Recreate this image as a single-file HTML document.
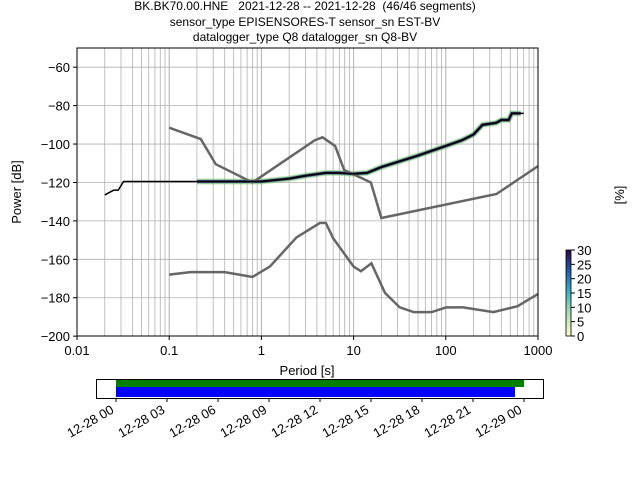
<!DOCTYPE html>
<html><head><meta charset="utf-8"><style>
body{margin:0;background:#fff}
svg{font-family:"Liberation Sans","DejaVu Sans",sans-serif}
</style></head><body>
<svg id="s" width="640" height="480" xmlns="http://www.w3.org/2000/svg">
<g font-size="12" text-anchor="middle" fill="#000">
<text x="305" y="10" style="white-space:pre">BK.BK70.00.HNE   2021-12-28 -- 2021-12-28  (46/46 segments)</text>
<text x="305" y="26">sensor_type EPISENSORES-T sensor_sn EST-BV</text>
<text x="305" y="41">datalogger_type Q8 datalogger_sn Q8-BV</text>
</g>
<g id="grid"></g>
<g id="curves"></g>
<rect x="77" y="48" width="461" height="288" fill="none" stroke="#000" stroke-width="1"/>
<g id="ticks" font-size="13"></g>
<text x="307" y="375" font-size="13" text-anchor="middle">Period [s]</text>
<text transform="translate(21,192) rotate(-90)" font-size="13" text-anchor="middle">Power [dB]</text>
<text transform="translate(624,195) rotate(-90)" font-size="13" text-anchor="middle">[%]</text>
<defs><linearGradient id="cb" x1="0" y1="1" x2="0" y2="0">
<stop offset="0" stop-color="#ffffcc"/><stop offset="0.3" stop-color="#a1dab4"/><stop offset="0.5" stop-color="#41b6c4"/><stop offset="0.75" stop-color="#225ea8"/><stop offset="1" stop-color="#2c0a4a"/></linearGradient></defs>
<rect x="566" y="250" width="5" height="86" fill="url(#cb)" stroke="#000" stroke-width="0.8"/>
<g id="cbt" font-size="13"></g>
<rect x="96.5" y="379.5" width="447" height="19" fill="#fff" stroke="#000"/>
<rect x="116" y="380" width="408" height="7" fill="#008000"/>
<rect x="116" y="387" width="399" height="10" fill="#0000ff"/>
<g id="bt" font-size="13"></g>
</svg>
<script>
const NS="http://www.w3.org/2000/svg";
function el(p,t,a,txt){const e=document.createElementNS(NS,t);for(const k in a)e.setAttribute(k,a[k]);if(txt!==undefined)e.textContent=txt;document.getElementById(p).appendChild(e);return e;}
const X=p=>77+(Math.log10(p)+2)*92.2, Y=d=>48+(-50-d)*1.921;
for(let e=-2;e<3;e++)for(let m=1;m<10;m++){const x=X(m*Math.pow(10,e));el("grid","line",{x1:x,x2:x,y1:48,y2:336,stroke:"#b0b0b0","stroke-width":m==1?1:0.8});}
for(let d=-60;d>=-200;d-=20){el("grid","line",{x1:77,x2:538,y1:Y(d),y2:Y(d),stroke:"#b0b0b0","stroke-width":0.8});
el("ticks","line",{x1:73,x2:77,y1:Y(d),y2:Y(d),stroke:"#000"});el("ticks","text",{x:70,y:Y(d)+5,"text-anchor":"end"},"−"+(-d));}
const xl=["0.01","0.1","1","10","100","1000"];
xl.forEach((t,i)=>{const x=77+i*92.2;el("ticks","line",{x1:x,x2:x,y1:336,y2:340,stroke:"#000"});el("ticks","text",{x:x,y:355,"text-anchor":"middle"},t);});
function pl(pts,st){el("curves","polyline",Object.assign({points:pts.map(p=>X(p[0])+","+Y(p[1])).join(" "),fill:"none"},st));}
const hn=[[0.1,-91.5],[0.22,-97.4],[0.32,-110.5],[0.8,-120],[3.8,-98],[4.6,-96.5],[6.3,-101],[7.9,-113.5],[15.4,-120],[20,-138.5],[354.8,-126],[1000,-111.5]];
const ln=[[0.1,-168],[0.17,-166.7],[0.4,-166.7],[0.8,-169.2],[1.24,-163.7],[2.4,-148.6],[4.3,-141.1],[5,-141.1],[6,-149],[10,-163.8],[12,-166.2],[15.6,-162.1],[21.9,-177.5],[31.6,-185],[45,-187.5],[70,-187.5],[101,-185],[154,-185],[328,-187.5],[600,-184.4],[1000,-178]];
const dt=[[0.02,-126.5],[0.025,-124],[0.028,-124],[0.032,-119.5],[1,-119.5],[2,-118],[3,-116.5],[5,-115],[7,-115],[10,-115.5],[14,-115],[20,-112],[50,-106],[100,-101],[150,-98],[200,-95],[250,-90],[350,-89],[400,-87.5],[480,-87.5],[520,-84],[700,-84]];
const band=[[0.2,-119.5],[1,-119.5],[2,-118],[3,-116.5],[5,-115],[7,-115],[10,-115.5],[14,-115],[20,-112],[50,-106],[100,-101],[150,-98],[200,-95],[250,-90],[350,-89],[400,-87.5],[480,-87.5],[520,-84],[650,-84]];
pl(band,{stroke:"#8ccf6a","stroke-width":6,opacity:0.5});
pl(band,{stroke:"#2a8a8a","stroke-width":4,opacity:0.6});
pl(band,{stroke:"#3b1a5a","stroke-width":2.5});
pl(hn,{stroke:"#666","stroke-width":2.5});
pl(ln,{stroke:"#666","stroke-width":2.5});
pl(dt,{stroke:"#000","stroke-width":1.5});
for(let v=0;v<=30;v+=5){const y=336-v*86/30;el("cbt","line",{x1:571,x2:575,y1:y,y2:y,stroke:"#000"});el("cbt","text",{x:577,y:y+5},v);}
const bl=["12-28 00","12-28 03","12-28 06","12-28 09","12-28 12","12-28 15","12-28 18","12-28 21","12-29 00"];
bl.forEach((t,i)=>{const x=116+i*51;el("bt","line",{x1:x,x2:x,y1:398,y2:402,stroke:"#000"});el("bt","text",{transform:`translate(${x-6},${404}) rotate(-30)`,"text-anchor":"end","dominant-baseline":"hanging"},t);});
</script>
</body></html>
